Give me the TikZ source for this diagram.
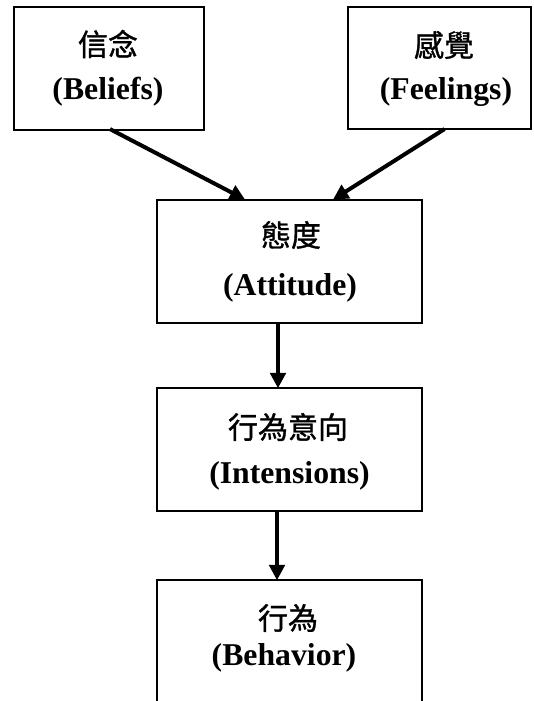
\documentclass[tikz,border=0pt]{standalone}
\usepackage{fontspec}
\setmainfont{Liberation Serif}
\newfontfamily\zhfont{Noto Sans CJK TC}[FakeBold=1.2]
\usetikzlibrary{arrows.meta,calc}

\tikzset{
  box/.style={draw=black, line width=1.6pt, fill=white, rectangle, inner sep=0pt},
  zh/.style={inner sep=0pt, anchor=center, font=\zhfont\fontsize{22.5pt}{24pt}\selectfont},
  en/.style={inner sep=0pt, anchor=base, font=\bfseries\fontsize{23.8pt}{26pt}\selectfont},
  flow/.style={line width=3pt, -{Triangle[length=11.5pt,width=11.5pt]}, shorten >=-1pt}
}

\begin{document}
\begin{tikzpicture}[x=0.75pt,y=-0.75pt]
  \useasboundingbox (0,0) rectangle (533,701);
  \clip (0,0) rectangle (533,701);

  % boxes (sizes in px: 1px = 0.75pt)
  \node[box, minimum width=142.5pt, minimum height=92.25pt] (bel) at (109,68.5) {};
  \node[box, minimum width=137.25pt, minimum height=91.5pt] (feel) at (439.5,68) {};
  \node[box, minimum width=198.75pt, minimum height=92.25pt] (att) at (289.5,261.5) {};
  \node[box, minimum width=198.75pt, minimum height=92.25pt] (int) at (289.5,449.5) {};
  \node[box, minimum width=198.75pt, minimum height=92.25pt] (beh) at (289.5,641.5) {};

  % labels
  \node[zh] (bel-zh) at (108,44) {信念};
  \node[en] (bel-en) at (108,99) {(Beliefs)};
  \node[zh] (feel-zh) at (444,45) {感覺};
  \node[en] (feel-en) at (446,99) {(Feelings)};
  \node[zh] (att-zh) at (291,235) {態度};
  \node[en] (att-en) at (290,295) {(Attitude)};
  \node[zh] (int-zh) at (288,427) {行為意向};
  \node[en] (int-en) at (289.5,483) {(Intensions)};
  \node[zh] (beh-zh) at (288,618) {行為};
  \node[en] (beh-en) at (284,665) {(Behavior)};

  % connectors
  \draw[flow] ($(bel.south)+(1,-2)$) -- ($(att.north west)+(88,0)$);
  \draw[flow] ($(feel.south)+(5,-1)$) -- ($(att.north east)+(-89,0)$);
  \draw[flow] ($(att.south)+(-11.5,0)$) -- ($(int.north)+(-11.5,0)$);
  \draw[flow] ($(int.south)+(-12.5,0)$) -- ($(beh.north)+(-12.5,0)$);
\end{tikzpicture}
\end{document}
